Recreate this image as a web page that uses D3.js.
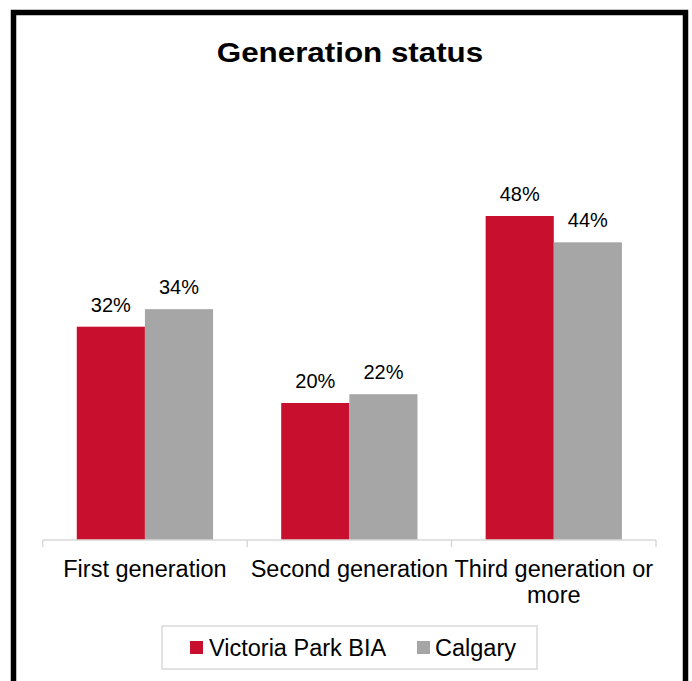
<!DOCTYPE html>
<html>
<head>
<meta charset="utf-8">
<script src="https://cdn.jsdelivr.net/npm/d3@7"></script>
<style>
  html, body { margin: 0; padding: 0; background: #fff; }
  svg { display: block; font-family: "Liberation Sans", Arial, sans-serif; }
</style>
</head>
<body>
<div id="chart"></div>
<script>
// data
const categories = ["First generation", "Second generation", "Third generation or more"];
const seriesNames = ["Victoria Park BIA", "Calgary"];
const victoriaPark = [31.6, 20.3, 48.0];
const calgary = [34.2, 21.6, 44.1];
const valueLabels = [["32%", "20%", "48%"], ["34%", "22%", "44%"]];
const colorArray = ["#C8102E", "#A6A6A6"];

const width = 692, height = 681;
const margin = {left: 42.7, right: 36, top: 135, bottom: 141};
const axisY = height - margin.bottom; // 540

const svg = d3.select("#chart").append("svg")
    .attr("width", width)
    .attr("height", height);

// outer frame (bottom edge runs off the picture)
svg.append("rect")
    .attr("x", 13.5).attr("y", 12.5)
    .attr("width", 672).attr("height", 690)
    .attr("fill", "none")
    .attr("stroke", "#000")
    .attr("stroke-width", 5.5);

// title
svg.append("text")
    .attr("transform", "translate(350,62) scale(1.1,1)")
    .attr("text-anchor", "middle")
    .attr("font-weight", "bold")
    .attr("font-size", 28.5)
    .attr("fill", "#000")
    .text("Generation status");

// scales
const x0 = d3.scaleBand().domain(categories).range([margin.left, width - margin.right]).padding(0);
const bw = x0.bandwidth();
const x1 = d3.scaleBand().domain(seriesNames).range([bw / 6, bw * 5 / 6]).padding(0);
const y = d3.scaleLinear().domain([0, 60]).range([axisY, margin.top]);

const rows = categories.map((c, i) => ({
  cat: c,
  vals: [
    {s: seriesNames[0], v: victoriaPark[i], lab: valueLabels[0][i], k: 0},
    {s: seriesNames[1], v: calgary[i], lab: valueLabels[1][i], k: 1}
  ]
}));

const groups = svg.append("g").selectAll("g")
    .data(rows).enter().append("g")
    .attr("transform", d => "translate(" + x0(d.cat) + ",0)");

groups.selectAll("rect")
    .data(d => d.vals).enter().append("rect")
    .attr("x", d => x1(d.s))
    .attr("width", x1.bandwidth())
    .attr("y", d => y(d.v))
    .attr("height", d => y(0) - y(d.v))
    .attr("fill", d => colorArray[d.k]);

groups.selectAll("text.val")
    .data(d => d.vals).enter().append("text")
    .attr("class", "val")
    .attr("x", d => x1(d.s) + x1.bandwidth() / 2)
    .attr("y", d => y(d.v) - 15)
    .attr("text-anchor", "middle")
    .attr("font-size", 20)
    .attr("fill", "#000")
    .text(d => d.lab);

// x axis: line + ticks at category boundaries
const axis = svg.append("g").attr("transform", "translate(0," + axisY + ")");
axis.append("line")
    .attr("x1", x0.range()[0]).attr("x2", x0.range()[1])
    .attr("stroke", "#D9D9D9").attr("stroke-width", 1.5);
const bounds = categories.map(c => x0(c)).concat([x0(categories[categories.length - 1]) + bw]);
axis.selectAll("line.tick")
    .data(bounds).enter().append("line")
    .attr("class", "tick")
    .attr("x1", d => d).attr("x2", d => d)
    .attr("y1", 0).attr("y2", 7)
    .attr("stroke", "#D9D9D9").attr("stroke-width", 1.5);

// category labels, wrapped to the band width
const wrapLabel = (textSel, maxW) => {
  textSel.each(function () {
    const t = d3.select(this);
    const words = t.text().split(" ");
    t.text(null);
    let line = [];
    let tspan = t.append("tspan").attr("x", t.attr("x")).attr("dy", 0);
    words.forEach(w => {
      line.push(w);
      tspan.text(line.join(" "));
      if (tspan.node().getComputedTextLength() > maxW && line.length > 1) {
        line.pop();
        tspan.text(line.join(" "));
        line = [w];
        tspan = t.append("tspan").attr("x", t.attr("x")).attr("dy", 26).text(w);
      }
    });
  });
};

svg.append("g").selectAll("text")
    .data(categories).enter().append("text")
    .attr("x", d => x0(d) + bw / 2)
    .attr("y", axisY + 37)
    .attr("text-anchor", "middle")
    .attr("font-size", 23.5)
    .attr("fill", "#000")
    .text(d => d)
    .call(wrapLabel, bw + 1);

// legend
const legend = svg.append("g");
legend.append("rect")
    .attr("x", 162).attr("y", 626)
    .attr("width", 375).attr("height", 43)
    .attr("fill", "#fff")
    .attr("stroke", "#D9D9D9").attr("stroke-width", 1.5);
const legX = [190, 417];
const items = legend.selectAll("g.item")
    .data(seriesNames).enter().append("g")
    .attr("class", "item")
    .attr("transform", (d, i) => "translate(" + legX[i] + ",641)");
items.append("rect")
    .attr("width", 13).attr("height", 13)
    .attr("fill", (d, i) => colorArray[i]);
items.append("text")
    .attr("x", (d, i) => i === 0 ? 19 : 18)
    .attr("y", 14.5)
    .attr("font-size", 23.5)
    .attr("fill", "#000")
    .text(d => d);
</script>
</body>
</html>
